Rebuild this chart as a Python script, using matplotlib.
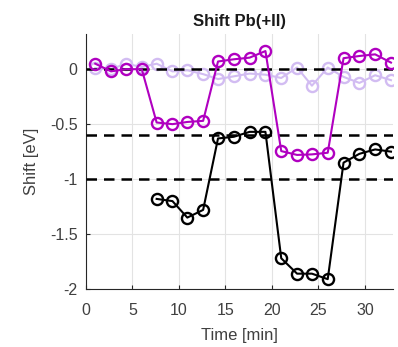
import matplotlib
matplotlib.use("Agg")
import matplotlib.pyplot as plt

plt.rcParams['font.family'] = ['Liberation Sans', 'DejaVu Sans']

# Acquisition times [min]
time = [1.0, 2.7, 4.3, 6.0, 7.6, 9.3, 10.9, 12.6, 14.2, 15.9,
        17.6, 19.3, 21.0, 22.7, 24.3, 26.0, 27.7, 29.4, 31.1, 32.8]

# Reference shift (light trace)
shift_ref = [0.01, 0.00, 0.05, 0.02, 0.05, -0.02, -0.01, -0.045, -0.09, -0.065,
             -0.04, -0.05, -0.08, 0.015, -0.15, 0.015, -0.07, -0.125, -0.055, -0.10]

# Pb(+II) shift, magenta trace
shift_pb = [0.05, -0.02, 0.00, 0.00, -0.485, -0.50, -0.48, -0.47, 0.07, 0.09,
            0.105, 0.165, -0.745, -0.78, -0.775, -0.76, 0.10, 0.12, 0.135, 0.06]

# Second component, black trace (starts at the 5th time point)
time_b = time[4:]
shift_b = [-1.18, -1.20, -1.35, -1.28, -0.63, -0.615, -0.57, -0.57,
           -1.72, -1.86, -1.86, -1.91, -0.85, -0.77, -0.73, -0.75]

# Horizontal reference levels [eV]
ref_levels = [0.0, -0.6, -1.0]

fig = plt.figure(figsize=(3.98, 3.47), dpi=100)
ax = fig.add_axes([0.216, 0.167, 0.771, 0.735])

marker_kw = dict(marker='o', markersize=8.0, markerfacecolor='none',
                 markeredgewidth=1.7, linewidth=1.5)

ax.plot(time, shift_ref, color='#D2BCF2', zorder=2, **marker_kw)
for lv in ref_levels:
    ax.axhline(lv, color='black', linewidth=1.8, dashes=(4.2, 2.8), zorder=3)
ax.plot(time_b, shift_b, color='black', zorder=4, **marker_kw)
ax.plot(time, shift_pb, color='#B000C0', zorder=5, **marker_kw)

ax.set_xlim(0, 33)
ax.set_ylim(-2, 0.32)
ax.set_xticks([0, 5, 10, 15, 20, 25, 30])
ax.set_yticks([-2, -1.5, -1, -0.5, 0])
ax.set_yticklabels(['-2', '-1.5', '-1', '-0.5', '0'])

ax.grid(True, color='#E3E3E3', linewidth=0.8, zorder=0)
ax.set_axisbelow(True)
for side in ('top', 'right'):
    ax.spines[side].set_visible(False)
for side in ('left', 'bottom'):
    ax.spines[side].set_color('#262626')
    ax.spines[side].set_linewidth(0.8)

ax.tick_params(direction='in', length=3, width=0.8, colors='#262626',
               labelsize=11.5, labelcolor='#404040')
ax.tick_params(axis='x', pad=10)
ax.tick_params(axis='y', pad=6)

ax.set_xlabel('Time [min]', fontsize=12, color='#404040', labelpad=7)
ax.set_ylabel('Shift [eV]', fontsize=12, color='#404040', labelpad=8)
ax.set_title('Shift Pb(+II)', fontsize=12, fontweight='bold', color='#1a1a1a', pad=6)

fig.savefig('out.png', dpi=100)
